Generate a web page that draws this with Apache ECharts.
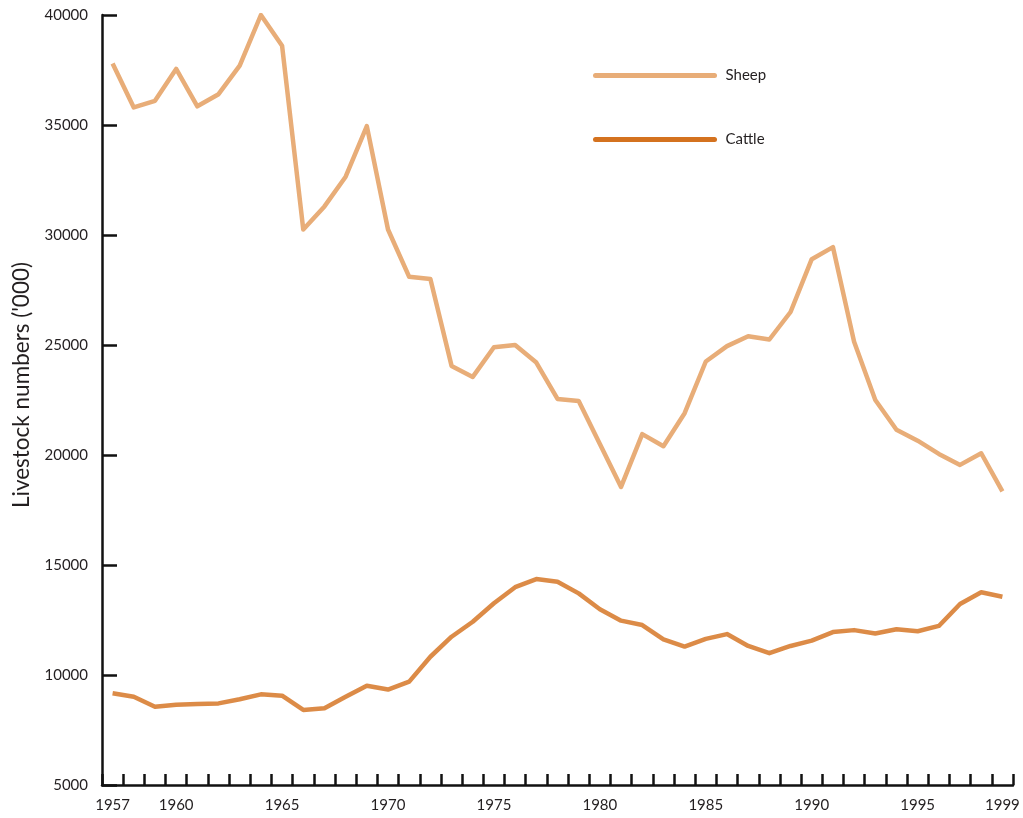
<!DOCTYPE html>
<html>
<head>
<meta charset="utf-8">
<script src="https://cdn.jsdelivr.net/npm/echarts@6/dist/echarts.min.js"></script>
<style>
  html, body { margin: 0; padding: 0; background: #fff; }
  #chart { width: 1023px; height: 818px; }
</style>
</head>
<body>
<div id="chart"></div>
<script>
const years = [];
for (let y = 1957; y <= 1999; y++) years.push(String(y));

const labelYears = ['1957', '1960', '1965', '1970', '1975', '1980', '1985', '1990', '1995', '1999'];

const sheep = [
  37800, 35800, 36100, 37550, 35850, 36400, 37700, 40000, 38600, 30250,
  31300, 32650, 34950, 30250, 28100, 28000, 24050, 23550, 24900, 25000,
  24200, 22550, 22450, 20500, 18550, 20950, 20400, 21900, 24250, 24950,
  25400, 25250, 26500, 28900, 29450, 25150, 22500, 21150, 20650, 20050,
  19550, 20080, 18350
];

const cattle = [
  9170, 9010, 8560, 8650, 8680, 8710, 8900, 9120, 9060, 8410,
  8490, 9010, 9510, 9340, 9700, 10830, 11740, 12420, 13260, 13990,
  14360, 14240, 13710, 12990, 12470, 12270, 11620, 11290, 11640, 11860,
  11320, 10990, 11320, 11560, 11950, 12040, 11890, 12080, 11990, 12230,
  13230, 13760, 13560
];

const yTicks = { min: 5000, max: 40000, interval: 5000 };

const FONT = 'Lato, "Open Sans", sans-serif';
const TEXT = '#231f20';

const chart = echarts.init(document.getElementById('chart'), null, { renderer: 'canvas' });
chart.setOption({
  animation: false,
  backgroundColor: '#ffffff',
  textStyle: { fontFamily: FONT, color: TEXT },
  grid: { left: 102, right: 10, top: 15, bottom: 33, containLabel: false },
  legend: {
    orient: 'vertical',
    left: 593,
    top: 68,
    padding: 0,
    itemWidth: 119,
    itemHeight: 16,
    itemGap: 49,
    textStyle: { fontFamily: FONT, fontSize: 15, color: TEXT, padding: [0, 0, 0, 6] },
    itemStyle: { opacity: 0, borderWidth: 0 },
    lineStyle: { width: 5, cap: 'round' },
    data: [
      { name: 'Sheep', lineStyle: { color: '#E8AD78', width: 5, cap: 'round', opacity: 1 } },
      { name: 'Cattle', lineStyle: { color: '#D4721F', width: 5, cap: 'round', opacity: 1 } }
    ]
  },
  xAxis: {
    type: 'category',
    data: years,
    boundaryGap: true,
    axisLine: { show: true, lineStyle: { color: '#111', width: 2.5 } },
    axisTick: { show: true, inside: true, length: 11, interval: 0, alignWithLabel: false, lineStyle: { color: '#111', width: 2.5 } },
    axisLabel: {
      interval: function (idx, val) { return labelYears.indexOf(val) >= 0; },
      margin: 13,
      fontFamily: FONT,
      fontSize: 15,
      color: TEXT
    },
    splitLine: { show: false }
  },
  yAxis: {
    type: 'value',
    min: yTicks.min,
    max: yTicks.max,
    interval: yTicks.interval,
    name: "Livestock numbers ('000)",
    nameLocation: 'middle',
    nameGap: 68,
    nameTextStyle: { fontFamily: FONT, fontSize: 22.5, color: TEXT, padding: [0, 0, 0, 30] },
    axisLine: { show: true, lineStyle: { color: '#111', width: 2.5 } },
    axisTick: { show: true, inside: true, length: 15, lineStyle: { color: '#111', width: 2.5 } },
    axisLabel: { margin: 14, fontFamily: FONT, fontSize: 15, color: TEXT, formatter: function (v) { return String(v); } },
    splitLine: { show: false }
  },
  series: [
    {
      name: 'Sheep',
      type: 'line',
      data: sheep,
      symbol: 'none',
      color: '#E8AD78',
      lineStyle: { color: '#E8AD78', width: 4.5, join: 'round' }
    },
    {
      name: 'Cattle',
      type: 'line',
      data: cattle,
      symbol: 'none',
      color: '#D4721F',
      lineStyle: { color: '#D4721F', width: 4.5, opacity: 0.82, join: 'round' }
    }
  ]
});
</script>
</body>
</html>
